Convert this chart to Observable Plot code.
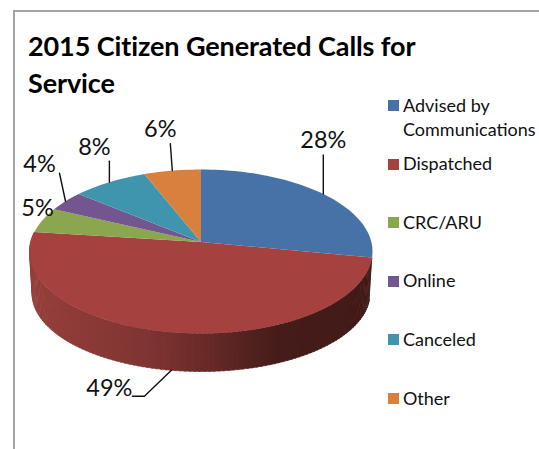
<!DOCTYPE html>
<html>
<head>
<meta charset="utf-8">
<script src="https://cdn.jsdelivr.net/npm/d3@7"></script>
<script src="https://cdn.jsdelivr.net/npm/@observablehq/plot@0.6"></script>
<style>
  html, body { margin: 0; padding: 0; background: #fff; }
  #page { position: relative; width: 539px; height: 449px; overflow: hidden; font-family: Lato, "Open Sans", sans-serif; color: #000; }
  #frame { position: absolute; left: 13px; top: 10px; width: 540px; height: 460px; border: 2px solid #a3a3a3; box-sizing: border-box; }
  #title { position: absolute; left: 28px; top: 28px; width: 400px; font-size: 27px; line-height: 36.6px; font-weight: 700; letter-spacing: -0.1px; white-space: nowrap; }
  #chart { position: absolute; left: 0; top: 0; }
  .key { position: absolute; left: 388px; width: 11px; height: 11px; }
  .lab { position: absolute; left: 403px; font-size: 18px; line-height: 24px; color: #111; white-space: pre; }
</style>
</head>
<body>
<div id="page">
  <div id="frame"></div>
  <div id="chart"></div>
  <div id="title">2015 Citizen Generated Calls for<br>Service</div>
</div>
<script>
const categories = ["Advised by\nCommunications", "Dispatched", "CRC/ARU", "Online", "Canceled", "Other"];
const shares = [28, 49, 5, 4, 8, 6];
const colors = ["#4672a8", "#a5423f", "#8aa64f", "#735590", "#4095ae", "#d8803c"];
const labelNudges = [[0, -39], [-27, 26], [0, 0], [-6, -28], [0, -21], [-2, -27]];
const textNudges = [[0, -15], [0, -8], [-5, -12], [-20, -9], [-15, -14], [-10, -14]];

// perspective tilt: the disk centre appears above the middle of the ellipse
const tilt = -0.115;
const rim = (p) => {
  const t = p * 2 * Math.PI, sx = Math.sin(t), sy = -Math.cos(t), d = 1 + tilt * sy;
  return [sx * Math.sqrt(1 - tilt * tilt) / d, (sy + tilt) / d];
};
const bottom = ([x, y]) => [x * 0.985, 0.512 + y * 0.951];
const pxX = 343 / 2, pxY = 164 / 2;

const cum = d3.cumsum(shares).map((v) => v / 100);
const starts = [0, ...cum.slice(0, -1)];

const slices = [];
shares.forEach((s, i) => {
  slices.push({ key: i, x: 0, y: tilt, color: colors[i] });
  const steps = Math.ceil(s * 2);
  for (let k = 0; k <= steps; k++) {
    const [x, y] = rim(starts[i] + (cum[i] - starts[i]) * k / steps);
    slices.push({ key: i, x, y, color: colors[i] });
  }
});

// side wall of the Dispatched slice, shaded from light (left) to dark (right)
const shade = d3.scaleLinear().domain([-1, -0.3, 0.0, 0.45, 1]).range(["#963f3c", "#7e3431", "#6a2b28", "#451c19", "#421a17"]).clamp(true);
const wall = [];
const n = 120;
for (let k = 0; k < n; k++) {
  const a = starts[1] + (cum[1] - starts[1]) * k / n;
  const b = starts[1] + (cum[1] - starts[1]) * (k + 1.3) / n;
  const ta = rim(a), tb = rim(Math.min(b, cum[1]));
  const ba = bottom(ta), bb = bottom(tb);
  const color = shade((ta[0] + tb[0]) / 2);
  [ta, tb, bb, ba].forEach(([x, y]) => wall.push({ key: k, x, y, color }));
}

const leaders = [], texts = [];
shares.forEach((s, i) => {
  const mid = rim(starts[i] + s / 200);
  const from = i === 1 ? bottom(mid) : mid;
  const [dx, dy] = labelNudges[i];
  const to = [from[0] + dx / pxX, from[1] + dy / pxY];
  if (dx !== 0 || dy !== 0) leaders.push({ key: i, x: from[0], y: from[1] }, { key: i, x: to[0], y: to[1] });
  if (i === 1) leaders.push({ key: i, x: to[0] - 12 / pxX, y: to[1] });
  const end = i === 1 ? [to[0] - 12 / pxX, to[1]] : to;
  texts.push({ x: end[0] + textNudges[i][0] / pxX, y: end[1] + textNudges[i][1] / pxY, label: s + "%", anchor: i === 1 ? "end" : "middle" });
});

const plot = Plot.plot({
  width: 539, height: 449, margin: 0,
  style: { background: "transparent" },
  x: { domain: [-1, 1], range: [29, 372], axis: null },
  y: { domain: [-1, 1], range: [169, 333], axis: null },
  marks: [
    Plot.line(wall, { x: "x", y: "y", z: "key", fill: "color", stroke: "color", strokeWidth: 0.6 }),
    Plot.line(slices, { x: "x", y: "y", z: "key", fill: "color", stroke: "none" }),
    Plot.line(leaders, { x: "x", y: "y", z: "key", stroke: "#111", strokeWidth: 1.4 }),
    Plot.text(texts.filter((d) => d.anchor === "middle"), { x: "x", y: "y", text: "label", fontSize: 23.5, fontFamily: "Lato, sans-serif", fill: "#111", textAnchor: "middle" }),
    Plot.text(texts.filter((d) => d.anchor === "end"), { x: "x", y: "y", text: "label", fontSize: 23.5, fontFamily: "Lato, sans-serif", fill: "#111", textAnchor: "end" })
  ]
});
document.getElementById("chart").appendChild(plot);

const page = document.getElementById("page");
categories.forEach((c, i) => {
  const key = document.createElement("div");
  key.className = "key";
  key.style.top = (100 + i * 58.6) + "px";
  key.style.background = colors[i];
  page.appendChild(key);
  const lab = document.createElement("div");
  lab.className = "lab";
  lab.style.top = (92.5 + i * 58.6) + "px";
  lab.textContent = c;
  page.appendChild(lab);
});
</script>
</body>
</html>
